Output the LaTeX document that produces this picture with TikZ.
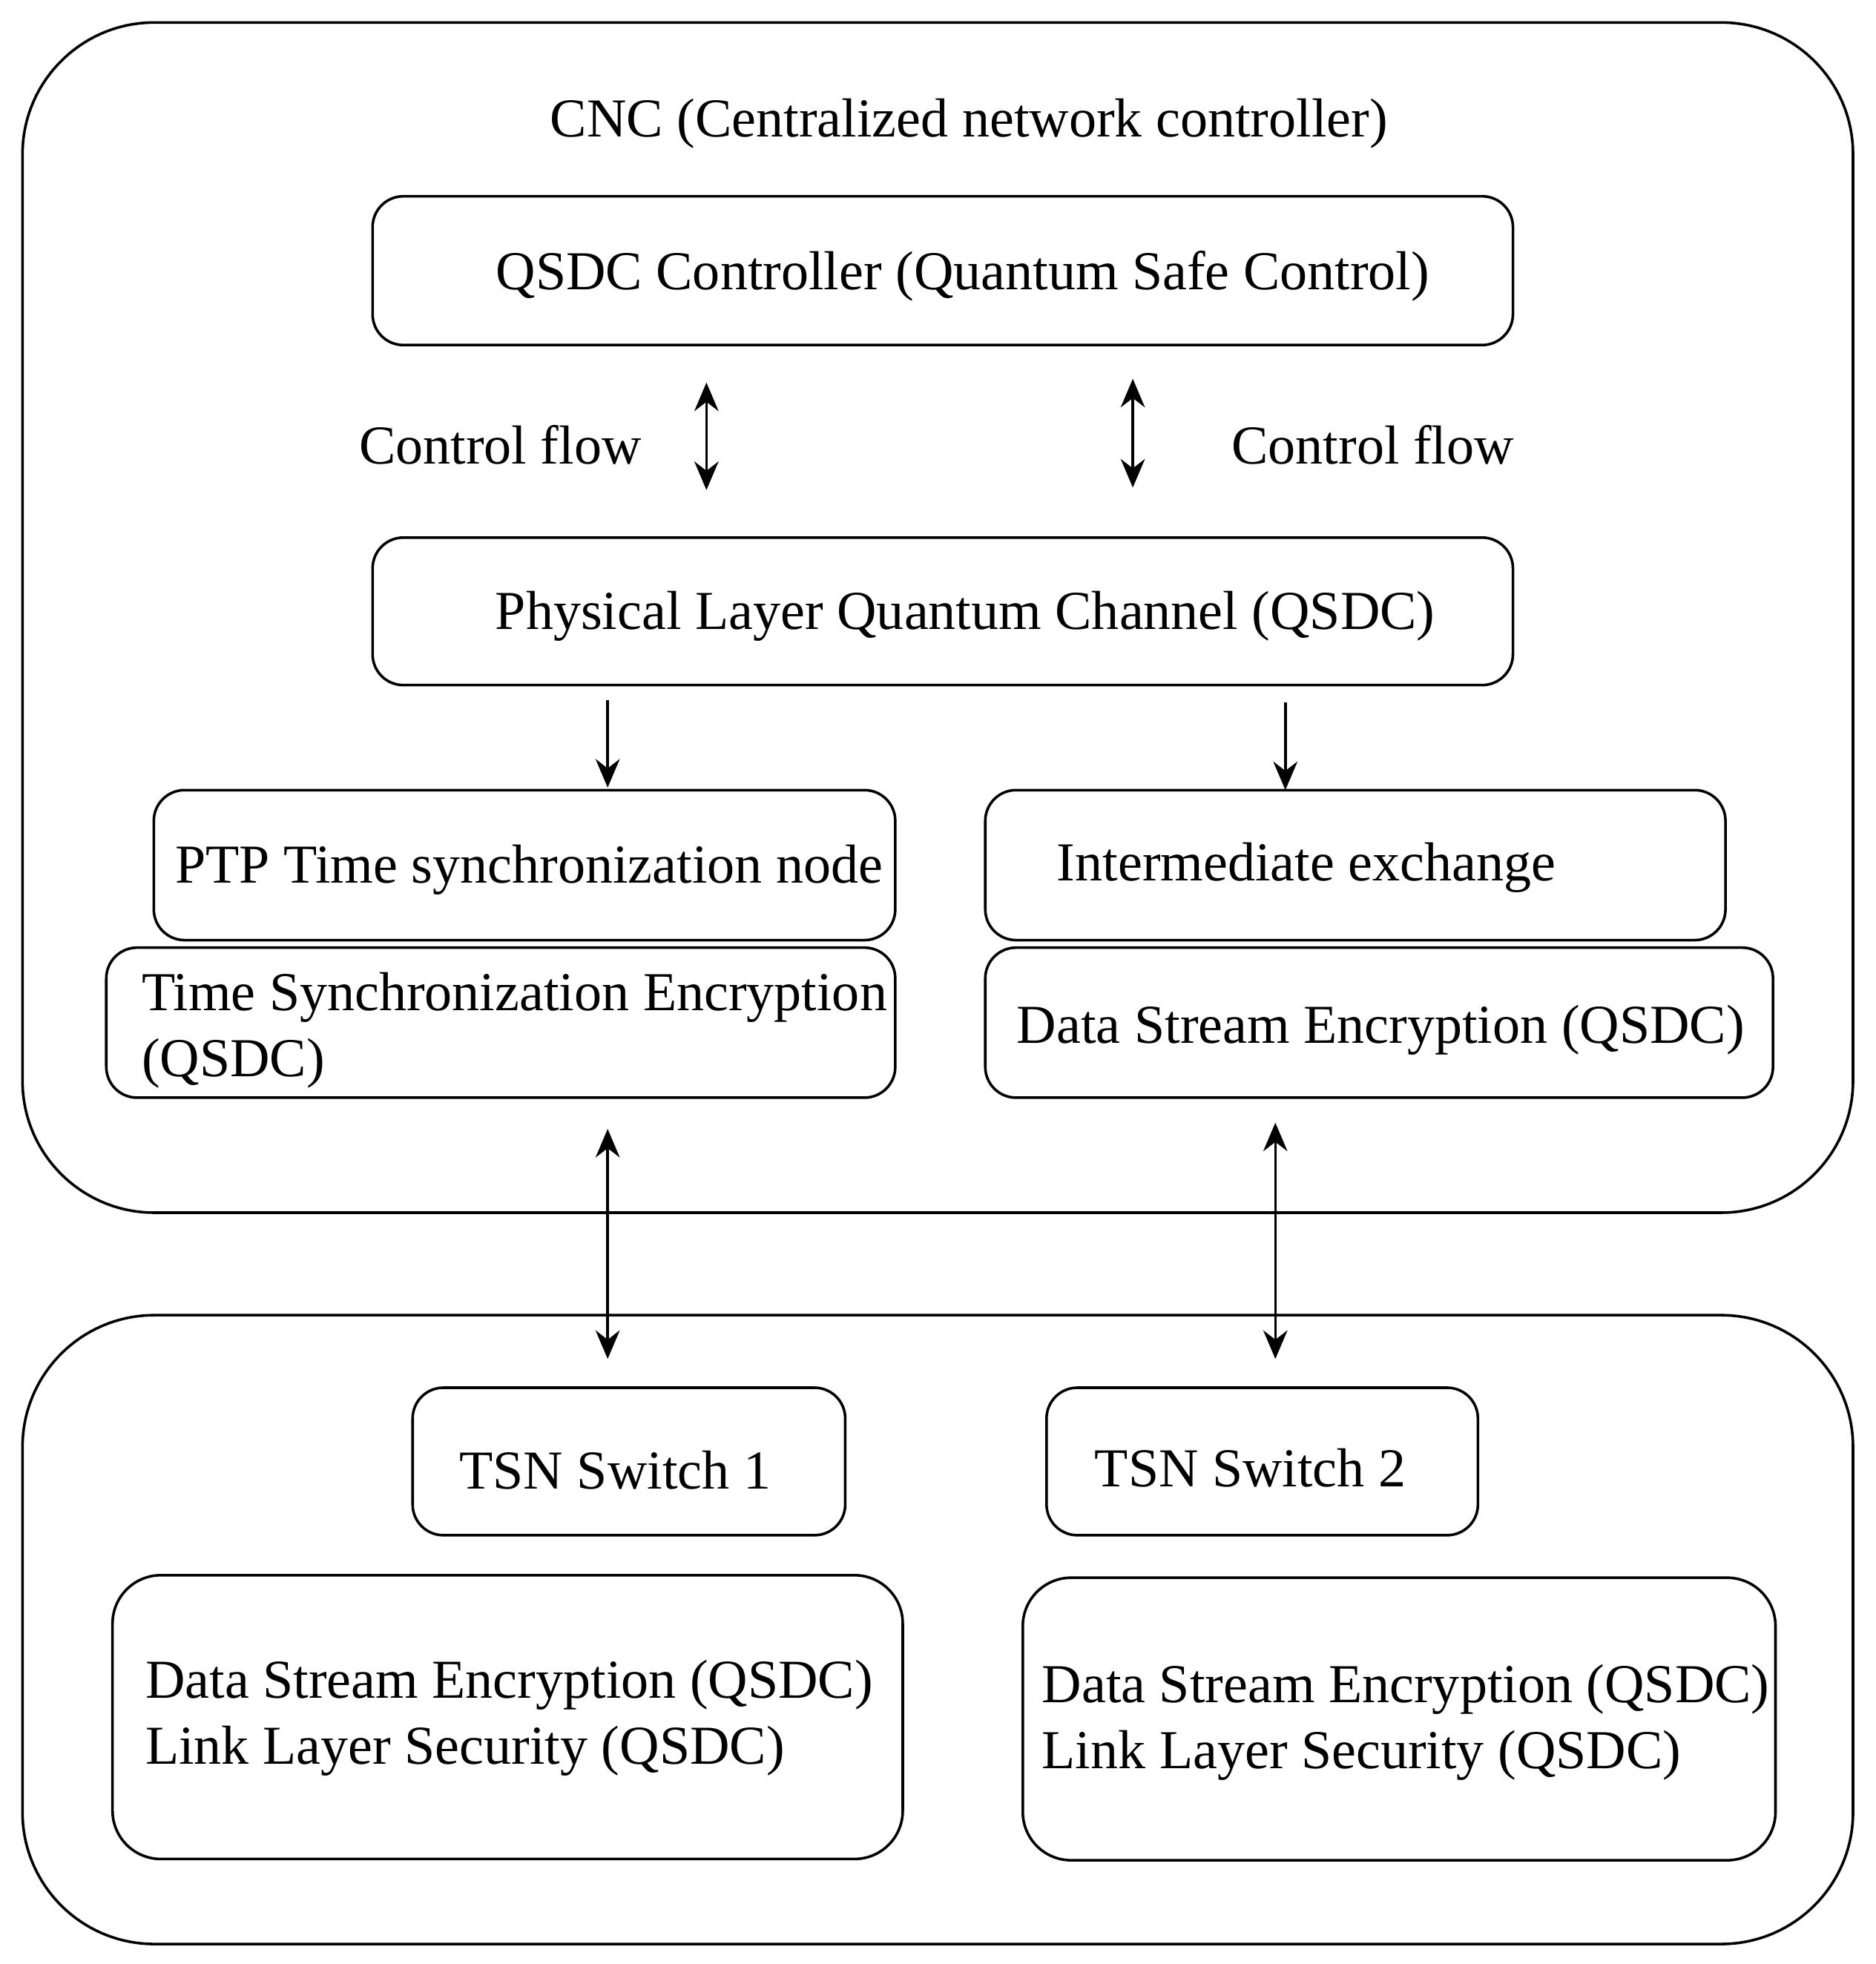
\documentclass[tikz,border=0pt]{standalone}
\usepackage{fontspec}
\setmainfont{Liberation Serif}
\usetikzlibrary{arrows.meta}
\begin{document}
\fontsize{25}{30}\selectfont
\begin{tikzpicture}[x=0.02cm,y=-0.02cm,
  box/.style={draw,line width=1.2pt,rounded corners=14pt,inner sep=0pt},
  big/.style={draw,line width=1.2pt,rounded corners=60pt,inner sep=0pt},
  arr/.style={line width=1.2pt,-{Stealth[length=13pt,width=11pt]}},
  darr/.style={line width=1.2pt,{Stealth[length=13pt,width=11pt]}-{Stealth[length=13pt,width=11pt]}},
  txt/.style={inner sep=0pt,anchor=west,align=left}]
\useasboundingbox (0,0) rectangle (1500,1571);
\draw[big] (18,18) rectangle (1482,970);
\draw[big] (18,1052) rectangle (1482,1555);
\node[inner sep=0pt] (cnc) at (775,99) {CNC (Centralized network controller)};
\draw[box] (298,157) rectangle (1210,276);
\node[inner sep=0pt] (qc) at (770,221) {QSDC Controller (Quantum Safe Control)};
\coordinate (a1t) at (565,306); \coordinate (a1b) at (565,392);
\coordinate (a2t) at (906,303); \coordinate (a2b) at (906,390);
\draw[darr] (a1t) -- (a1b);
\draw[darr] (a2t) -- (a2b);
\node[inner sep=0pt] (cf1) at (400,356) {Control flow};
\node[inner sep=0pt] (cf2) at (1098,356) {Control flow};
\draw[box] (298,430) rectangle (1210,548);
\node[inner sep=0pt] (ph) at (772,493) {Physical Layer Quantum Channel (QSDC)};
\coordinate (d1t) at (486,560); \coordinate (d1b) at (486,630);
\coordinate (d2t) at (1028,562); \coordinate (d2b) at (1028,632);
\draw[arr] (d1t) -- (d1b);
\draw[arr] (d2t) -- (d2b);
\draw[box] (123,632) rectangle (716,752);
\node[txt] (ptp) at (140,696) {PTP Time synchronization node};
\draw[box] (85,758) rectangle (716,878);
\node[txt] (tse) at (113,824) {Time Synchronization Encryption\\(QSDC)};
\draw[box] (788,632) rectangle (1380,752);
\node[txt] (ie) at (845,694) {Intermediate exchange};
\draw[box] (788,758) rectangle (1418,878);
\node[txt] (dse) at (813,824) {Data Stream Encryption (QSDC)};
\coordinate (e1t) at (486,903); \coordinate (e1b) at (486,1087);
\coordinate (e2t) at (1020,898); \coordinate (e2b) at (1020,1087);
\draw[darr] (e1t) -- (e1b);
\draw[darr] (e2t) -- (e2b);
\draw[box] (330,1110) rectangle (676,1228);
\node[inner sep=0pt] (t1) at (492,1176) {TSN Switch 1};
\draw[box] (837,1110) rectangle (1182,1228);
\node[inner sep=0pt] (t2) at (1000,1174) {TSN Switch 2};
\draw[box,rounded corners=22pt] (90,1260) rectangle (722,1487);
\node[txt] (b1) at (116,1374) {Data Stream Encryption (QSDC)\\Link Layer Security (QSDC)};
\draw[box,rounded corners=22pt] (818,1262) rectangle (1420,1488);
\node[txt] (b2) at (833,1378) {Data Stream Encryption (QSDC)\\Link Layer Security (QSDC)};
\end{tikzpicture}
\end{document}
